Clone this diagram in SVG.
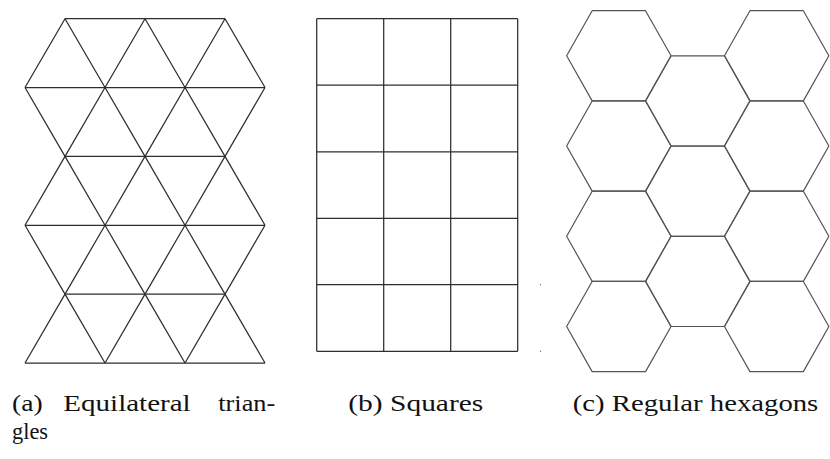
<svg xmlns="http://www.w3.org/2000/svg" width="830" height="459" viewBox="0 0 830 459">
<style>
.ln{fill:none;stroke:#2e2e2e;stroke-width:1.25;stroke-linejoin:round}
.hx{fill:none;stroke:#555;stroke-width:1.2;stroke-linejoin:round}
.cap{font-family:"Liberation Serif","DejaVu Serif",serif;font-size:23px;fill:#111}
</style>
<rect width="830" height="459" fill="#fff"/>
<g id="triangles">
<path class="ln" d="M65,18.7H225 M25,87.56H265 M65,156.42H225 M25,225.28H265 M65,294.14H225 M25,363H265"/>
<path class="ln" d="M25,87.56L65,18.7L105,87.56L145,18.7L185,87.56L225,18.7L265,87.56"/>
<path class="ln" d="M25,87.56L65,156.42L105,87.56L145,156.42L185,87.56L225,156.42L265,87.56"/>
<path class="ln" d="M25,225.28L65,156.42L105,225.28L145,156.42L185,225.28L225,156.42L265,225.28"/>
<path class="ln" d="M25,225.28L65,294.14L105,225.28L145,294.14L185,225.28L225,294.14L265,225.28"/>
<path class="ln" d="M25,363L65,294.14L105,363L145,294.14L185,363L225,294.14L265,363"/>
</g>
<g id="squares">
<path class="ln" d="M316.7,18.7H517.7 M316.7,85.2H517.7 M316.7,151.8H517.7 M316.7,218.3H517.7 M316.7,284.7H517.7 M316.7,351.3H517.7"/>
<path class="ln" d="M316.7,18.7V351.3 M383.7,18.7V351.3 M450.7,18.7V351.3 M517.7,18.7V351.3"/>
<circle cx="540.5" cy="284.7" r="0.7" fill="#777"/>
<circle cx="540.5" cy="351.3" r="0.7" fill="#777"/>
</g>
<defs>
<polygon id="hex" points="-52.2,0 -26.7,-45.1 26.7,-45.1 52.2,0 26.7,45.1 -26.7,45.1"/>
</defs>
<g id="hexagons">
<use href="#hex" class="hx" x="618.85" y="55.8"/>
<use href="#hex" class="hx" x="618.85" y="146.05"/>
<use href="#hex" class="hx" x="618.85" y="236.3"/>
<use href="#hex" class="hx" x="618.85" y="326.55"/>
<use href="#hex" class="hx" x="697.75" y="100.9"/>
<use href="#hex" class="hx" x="697.75" y="191.15"/>
<use href="#hex" class="hx" x="697.75" y="281.4"/>
<use href="#hex" class="hx" x="776.65" y="55.8"/>
<use href="#hex" class="hx" x="776.65" y="146.05"/>
<use href="#hex" class="hx" x="776.65" y="236.3"/>
<use href="#hex" class="hx" x="776.65" y="326.55"/>
</g>
<g id="captions">
<text class="cap" x="12" y="411" textLength="30.7" lengthAdjust="spacingAndGlyphs">(a)</text>
<text class="cap" x="63.3" y="411" textLength="127.4" lengthAdjust="spacingAndGlyphs">Equilateral</text>
<text class="cap" x="218.3" y="411" textLength="57" lengthAdjust="spacingAndGlyphs">trian-</text>
<text class="cap" x="12" y="439" textLength="36" lengthAdjust="spacingAndGlyphs">gles</text>
<text class="cap" x="348.3" y="411" textLength="135" lengthAdjust="spacingAndGlyphs">(b) Squares</text>
<text class="cap" x="572.7" y="411" textLength="245.6" lengthAdjust="spacingAndGlyphs">(c) Regular hexagons</text>
</g>
</svg>
